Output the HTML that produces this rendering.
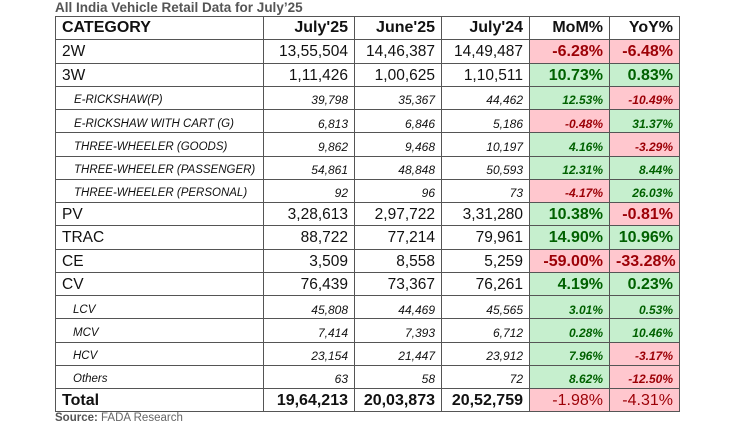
<!DOCTYPE html>
<html><head><meta charset="utf-8"><style>
body{margin:0;width:750px;height:430px;background:#fff;overflow:hidden;font-family:"Liberation Sans Narrow","Liberation Sans",sans-serif;}
.title{position:absolute;left:55px;top:0px;font-size:13.5px;font-weight:bold;color:#555;}
.src{position:absolute;left:55px;top:412px;font-size:11.5px;color:#666;}
.src b{color:#555}
table{position:absolute;left:55px;top:16px;width:624px;border-collapse:collapse;table-layout:fixed;border:1.5px solid #444;}
tr{height:23.25px;}
td{border:1px solid #555;height:23.25px;box-sizing:border-box;padding:2px 6px 0 6px;text-align:right;font-size:15.5px;color:#111;white-space:nowrap;overflow:hidden;line-height:16px;}
td:first-child{text-align:left;}
tr.h td{font-weight:bold;font-size:16px;padding-top:0;}
tr.s td{font-style:italic;font-size:12px;padding-top:5px;}
tr.s td:first-child{padding-left:18px;font-size:11.5px;}
tr.s td.l{padding-left:17px;}
tr.t td{font-weight:bold;font-size:16px;}
td.r{background:#ffc7ce;color:#9c0006;}
td.g{background:#c6efce;color:#006100;}
tr.b td.r,tr.b td.g{font-weight:bold;font-size:16px;}
tr.s td.r,tr.s td.g{font-weight:bold;}
</style></head><body>
<div class="title">All India Vehicle Retail Data for July’25</div>
<table>
<colgroup><col style="width:208px"><col style="width:91px"><col style="width:87px"><col style="width:88px"><col style="width:80px"><col style="width:70px"></colgroup>
<tr class="h"><td>CATEGORY</td><td>July'25</td><td>June'25</td><td>July'24</td><td>MoM%</td><td>YoY%</td></tr>
<tr class="b"><td>2W</td><td>13,55,504</td><td>14,46,387</td><td>14,49,487</td><td class="r">-6.28%</td><td class="r">-6.48%</td></tr>
<tr class="b"><td>3W</td><td>1,11,426</td><td>1,00,625</td><td>1,10,511</td><td class="g">10.73%</td><td class="g">0.83%</td></tr>
<tr class="s"><td>E-RICKSHAW(P)</td><td>39,798</td><td>35,367</td><td>44,462</td><td class="g">12.53%</td><td class="r">-10.49%</td></tr>
<tr class="s"><td>E-RICKSHAW WITH CART (G)</td><td>6,813</td><td>6,846</td><td>5,186</td><td class="r">-0.48%</td><td class="g">31.37%</td></tr>
<tr class="s"><td>THREE-WHEELER (GOODS)</td><td>9,862</td><td>9,468</td><td>10,197</td><td class="g">4.16%</td><td class="r">-3.29%</td></tr>
<tr class="s"><td>THREE-WHEELER (PASSENGER)</td><td>54,861</td><td>48,848</td><td>50,593</td><td class="g">12.31%</td><td class="g">8.44%</td></tr>
<tr class="s"><td>THREE-WHEELER (PERSONAL)</td><td>92</td><td>96</td><td>73</td><td class="r">-4.17%</td><td class="g">26.03%</td></tr>
<tr class="b"><td>PV</td><td>3,28,613</td><td>2,97,722</td><td>3,31,280</td><td class="g">10.38%</td><td class="r">-0.81%</td></tr>
<tr class="b"><td>TRAC</td><td>88,722</td><td>77,214</td><td>79,961</td><td class="g">14.90%</td><td class="g">10.96%</td></tr>
<tr class="b"><td>CE</td><td>3,509</td><td>8,558</td><td>5,259</td><td class="r">-59.00%</td><td class="r">-33.28%</td></tr>
<tr class="b"><td>CV</td><td>76,439</td><td>73,367</td><td>76,261</td><td class="g">4.19%</td><td class="g">0.23%</td></tr>
<tr class="s"><td class="l">LCV</td><td>45,808</td><td>44,469</td><td>45,565</td><td class="g">3.01%</td><td class="g">0.53%</td></tr>
<tr class="s"><td class="l">MCV</td><td>7,414</td><td>7,393</td><td>6,712</td><td class="g">0.28%</td><td class="g">10.46%</td></tr>
<tr class="s"><td class="l">HCV</td><td>23,154</td><td>21,447</td><td>23,912</td><td class="g">7.96%</td><td class="r">-3.17%</td></tr>
<tr class="s"><td class="l">Others</td><td>63</td><td>58</td><td>72</td><td class="g">8.62%</td><td class="r">-12.50%</td></tr>
<tr class="t"><td>Total</td><td>19,64,213</td><td>20,03,873</td><td>20,52,759</td><td class="r" style="font-weight:normal">-1.98%</td><td class="r" style="font-weight:normal">-4.31%</td></tr>
</table>
<div class="src"><b>Source:</b> FADA Research</div>
</body></html>
